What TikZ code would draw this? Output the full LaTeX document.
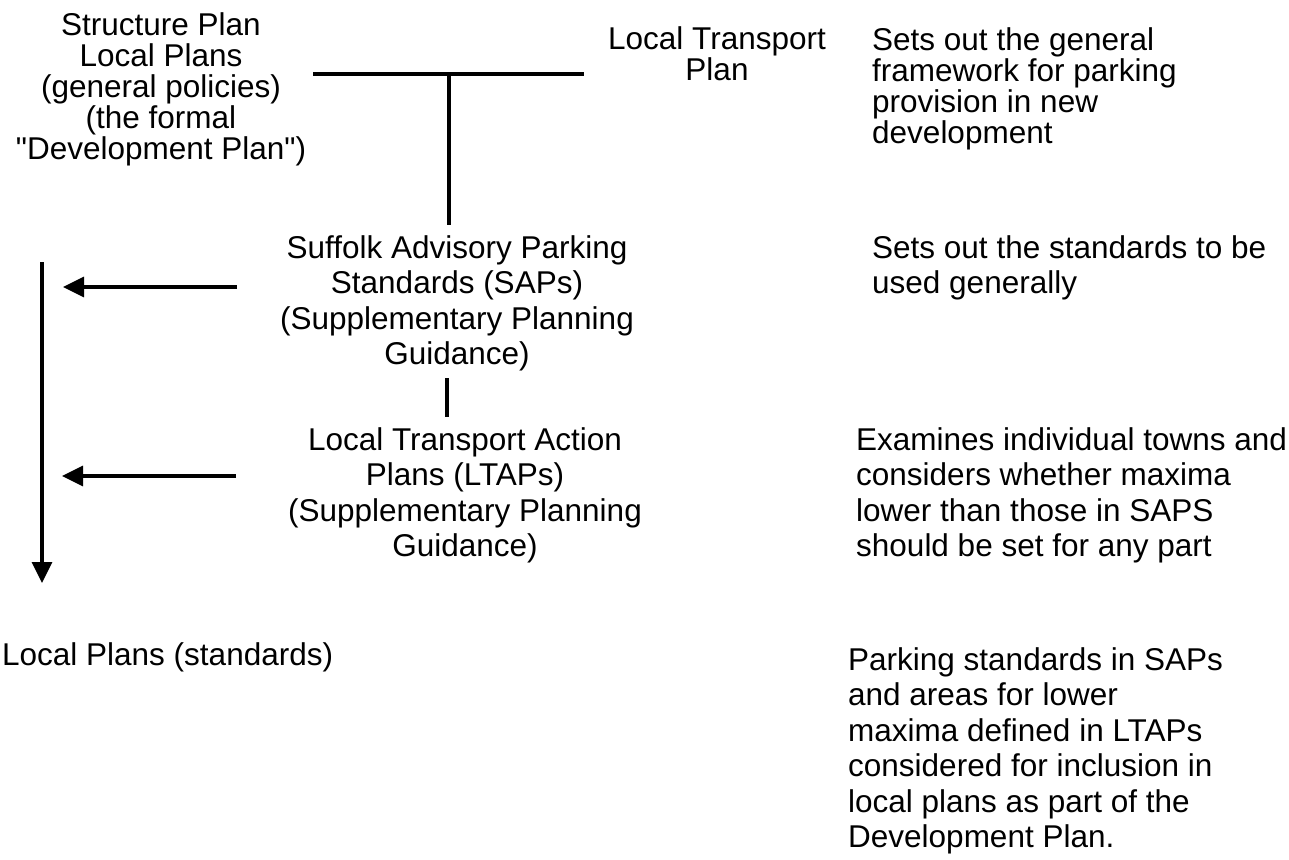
\documentclass[tikz,border=0pt]{standalone}
\usepackage{fontspec}
\newfontfamily\lsans{Liberation Sans}
\usetikzlibrary{arrows.meta}
\begin{document}
\begin{tikzpicture}[x=1pt,y=-1pt,
  txt/.style={inner sep=0pt, font=\lsans\fontsize{31.5}{35.5}\selectfont, anchor=base},
  tight/.style={font=\lsans\fontsize{31.5}{31}\selectfont},
  ctr/.style={txt, align=center},
  lft/.style={txt, align=left, anchor=base west},
  conn/.style={line width=3.2pt},
  arr/.style={line width=3.2pt, -{Triangle[length=21pt,width=20pt]}}]
\useasboundingbox[fill=white] (0,0) rectangle (1289,859);

% anchors are at the baseline of the last line
\node[ctr, tight] (dev) at (161,159) {Structure Plan\\Local Plans\\(general policies)\\(the formal\\"Development Plan")};
\node[ctr, tight] (ltp) at (717,81) {Local Transport\\Plan};
\node[lft, tight] (d1) at (872,143) {Sets out the general\\framework for parking\\provision in new\\development};

\node[ctr] (saps) at (457,364.5) {Suffolk Advisory Parking\\Standards (SAPs)\\(Supplementary Planning\\Guidance)};
\node[lft] (d2) at (872,293.5) {Sets out the standards to be\\used generally};

\node[ctr] (ltaps) at (465,556.5) {Local Transport Action\\Plans (LTAPs)\\(Supplementary Planning\\Guidance)};
\node[lft] (d3) at (856,556.5) {Examines individual towns and\\considers whether maxima\\lower than those in SAPS\\should be set for any part};

\node[lft] (lps) at (2,665) {Local Plans (standards)};
\node[lft] (d4) at (848,847.5) {Parking standards in SAPs\\and areas for lower\\maxima defined in LTAPs\\considered for inclusion in\\local plans as part of the\\Development Plan.};

\coordinate (hl) at (313,74);
\coordinate (hr) at (584,74);
\coordinate (hm) at (449,74);
\coordinate (vb) at (449,225);
\coordinate (s1) at (447,378);
\coordinate (s2) at (447,417);
\coordinate (at) at (42,262);
\coordinate (ab) at (42,583);
\coordinate (a1s) at (237,287);
\coordinate (a1e) at (63,287);
\coordinate (a2s) at (236,476);
\coordinate (a2e) at (62,476);

\draw[conn] (hl) -- (hr);
\draw[conn] (hm) -- (vb);
\draw[conn] (s1) -- (s2);
\draw[arr] (at) -- (ab);
\draw[arr] (a1s) -- (a1e);
\draw[arr] (a2s) -- (a2e);
\end{tikzpicture}
\end{document}
